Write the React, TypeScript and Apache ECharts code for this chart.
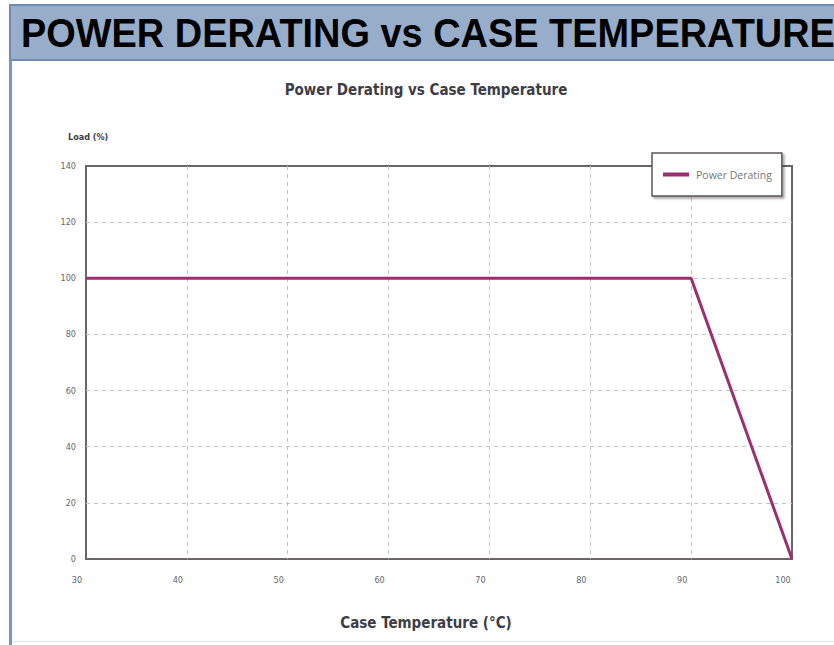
import React, { useEffect, useRef } from "react";
import * as echarts from "echarts";

const temperatures = [30, 90, 100];
const loadPercent = [100, 100, 0];
const seriesName = "Power Derating";
const pageTitle = "POWER DERATING vs CASE TEMPERATURE";
const chartTitle = "Power Derating vs Case Temperature";
const yAxisTitle = "Load (%)";
const xAxisTitle = "Case Temperature (°C)";

const condensed = "'Liberation Sans Narrow', 'DejaVu Sans Condensed', 'Roboto Condensed', sans-serif";

export default function App() {
  const ref = useRef<HTMLDivElement>(null);
  useEffect(() => {
    document.body.style.margin = "0";
    const chart = echarts.init(ref.current!, null, { renderer: "svg" });
    const split = {
      show: true,
      showMinLine: false,
      showMaxLine: false,
      lineStyle: { color: "#c4c4c4", type: [4, 4], width: 1 },
    };
    chart.setOption({
      animation: false,
      backgroundColor: "#ffffff",
      grid: {
        left: 86,
        top: 166,
        right: 42,
        bottom: 86,
        show: true,
        borderColor: "#6d6565",
        borderWidth: 2,
        backgroundColor: "transparent",
      },
      legend: {
        left: 652,
        top: 153,
        padding: [16, 10, 16, 11],
        itemWidth: 26,
        itemHeight: 4,
        itemGap: 0,
        icon: "rect",
        backgroundColor: "#ffffff",
        borderColor: "#5e5555",
        borderWidth: 1.5,
        shadowColor: "rgba(0,0,0,0.35)",
        shadowOffsetX: 2,
        shadowOffsetY: 2,
        shadowBlur: 2,
        textStyle: { color: "#777777", fontSize: 10.5, fontFamily: "'Open Sans', sans-serif", padding: [0, 0, 0, 2] },
        data: [seriesName],
      },
      xAxis: {
        type: "value",
        min: 30,
        max: 100,
        interval: 10,
        axisLine: { show: false },
        axisTick: { show: false },
        axisLabel: {
          color: "#666666",
          fontSize: 9,
          fontFamily: condensed,
          margin: 16,
          padding: [0, 18, 0, 0],
        },
        splitLine: split,
      },
      yAxis: {
        type: "value",
        min: 0,
        max: 140,
        interval: 20,
        axisLine: { show: false },
        axisTick: { show: false },
        axisLabel: { color: "#666666", fontSize: 9, fontFamily: condensed, margin: 10 },
        splitLine: split,
      },
      series: [
        {
          name: seriesName,
          type: "line",
          data: temperatures.map((t, i) => [t, loadPercent[i]]),
          symbol: "none",
          lineStyle: { color: "#9b2f6f", width: 3 },
          itemStyle: { color: "#9b2f6f" },
          z: 3,
        },
      ],
      graphic: [
        {
          type: "rect",
          shape: { x: 10, y: 5, width: 830, height: 55 },
          style: { fill: "#98adc9", stroke: "#6f8bb3", lineWidth: 2 },
          z: 10,
        },
        {
          type: "rect",
          shape: { x: 9, y: 60, width: 3, height: 585 },
          style: { fill: "#7d95bc" },
          z: 10,
        },
        {
          type: "rect",
          shape: { x: 12, y: 641, width: 822, height: 1 },
          style: { fill: "#dde2ec" },
          z: 10,
        },
        {
          type: "text",
          x: 21,
          y: 33,
          scaleX: 0.948,
          style: {
            text: pageTitle,
            fill: "#000000",
            font: "bold 40px 'Liberation Sans', Arial, sans-serif",
            verticalAlign: "middle",
            align: "left",
          },
          z: 11,
        },
        {
          type: "text",
          x: 426,
          y: 90,
          style: {
            text: chartTitle,
            fill: "#3d3d45",
            font: "bold 15px " + condensed,
            align: "center",
            verticalAlign: "middle",
          },
          z: 11,
        },
        {
          type: "text",
          x: 68,
          y: 137,
          style: {
            text: yAxisTitle,
            fill: "#3d3d45",
            font: "bold 9px " + condensed,
            align: "left",
            verticalAlign: "middle",
          },
          z: 11,
        },
        {
          type: "text",
          x: 426,
          y: 623,
          style: {
            text: xAxisTitle,
            fill: "#3d3d45",
            font: "bold 15px " + condensed,
            align: "center",
            verticalAlign: "middle",
          },
          z: 11,
        },
      ],
    });
    return () => chart.dispose();
  }, []);
  return <div ref={ref} style={{ position: "absolute", left: 0, top: 0, width: 834, height: 645 }} />;
}
